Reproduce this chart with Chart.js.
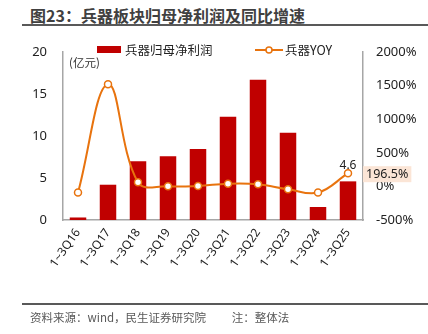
<!DOCTYPE html>
<html>
<head>
<meta charset="utf-8">
<script src="https://cdn.jsdelivr.net/npm/chart.js@4/dist/chart.umd.min.js"></script>
<style>
    body { margin: 0; background: #fff; font-family: 'Noto Sans CJK SC', 'Noto Sans', sans-serif; }
    #wrap { position: relative; width: 428px; height: 334px; overflow: hidden; }
    #myChart { position: absolute; left: 0; top: 0; }
    .title { position: absolute; left: 30px; top: 3px; font-size: 16px; font-weight: bold; color: #404040; white-space: nowrap; }
    .rule { position: absolute; left: 22px; right: 0; height: 2px; background: #595959; }
    .foot { position: absolute; left: 30px; top: 309px; font-size: 11.5px; color: #595959; white-space: nowrap; }
    .legend { position: absolute; top: 40px; font-size: 12.5px; color: #222; white-space: nowrap; }
    .unit { position: absolute; left: 69px; top: 54px; font-size: 11.5px; color: #333; }
</style>
</head>
<body>
<div id="wrap">
    <div class="title">图23：兵器板块归母净利润及同比增速</div>
    <div class="rule" style="top:24px"></div>
    <canvas id="myChart" width="428" height="334"></canvas>
    <div class="legend" style="left:97px"><span style="display:inline-block;width:24px;height:7px;background:#C00000;margin-right:4px;vertical-align:2px"></span>兵器归母净利润</div>
    <div class="legend" style="left:255px"><svg width="28" height="10" style="vertical-align:0;margin-right:2px"><line x1="0" y1="5" x2="28" y2="5" stroke="#E8730E" stroke-width="2"/><circle cx="14" cy="5" r="3" fill="#fff" stroke="#E8730E" stroke-width="1.5"/></svg>兵器YOY</div>
    <div class="unit">(亿元)</div>
    <div class="rule" style="top:303px"></div>
    <div class="foot">资料来源：wind，民生证券研究院&nbsp;&nbsp;&nbsp;&nbsp;&nbsp;&nbsp;&nbsp;&nbsp;&nbsp;&nbsp;注：整体法</div>
</div>
<script>
    const categories = ['1~3Q16', '1~3Q17', '1~3Q18', '1~3Q19', '1~3Q20', '1~3Q21', '1~3Q22', '1~3Q23', '1~3Q24', '1~3Q25'];
    const profit = [0.3, 4.2, 7.0, 7.6, 8.45, 12.3, 16.7, 10.4, 1.55, 4.6];
    const yoy = [-92, 1520, 62, 2, 6, 40, 32, -42, -92, 196.5];
    const leftTicks = [0, 5, 10, 15, 20];
    const rightTicks = [-500, 0, 500, 1000, 1500, 2000];

    const barColor = '#C00000';
    const lineColor = '#E8730E';
    const tickFont = {family: "'Noto Sans', 'Noto Sans CJK SC', sans-serif", size: 13};

    // last point labels: "4.6" above the bar and the boxed yoy value
    const lastLabels = {
        id: 'lastLabels',
        afterDatasetsDraw(chart) {
            const ctx = chart.ctx;
            const n = categories.length - 1;
            const pt = chart.getDatasetMeta(1).data[n];
            ctx.save();
            ctx.font = "12px 'Noto Sans', sans-serif";
            ctx.fillStyle = '#222';
            ctx.textAlign = 'center';
            ctx.textBaseline = 'bottom';
            ctx.fillText(String(profit[n]), pt.x, pt.y - 2);

            const txt = yoy[n] + '%';
            ctx.font = "12.5px 'Noto Sans', sans-serif";
            const w = ctx.measureText(txt).width + 6;
            const bx = pt.x + 15, by = pt.y - 7;
            ctx.fillStyle = '#FBE5D6';
            ctx.fillRect(bx, by, w, 16);
            ctx.fillStyle = '#222';
            ctx.textAlign = 'left';
            ctx.textBaseline = 'middle';
            ctx.fillText(txt, bx + 3, by + 8.5);
            ctx.restore();
        }
    };

    const config = {
        data: {
            labels: categories,
            datasets: [
                {
                    type: 'bar',
                    label: '兵器归母净利润',
                    data: profit,
                    backgroundColor: barColor,
                    yAxisID: 'y',
                    barPercentage: 0.55,
                    categoryPercentage: 1,
                    order: 2
                },
                {
                    type: 'line',
                    label: '兵器YOY',
                    data: yoy,
                    borderColor: lineColor,
                    borderWidth: 2,
                    tension: 0.4,
                    pointRadius: 3.5,
                    pointBackgroundColor: '#fff',
                    pointBorderColor: lineColor,
                    pointBorderWidth: 1.5,
                    yAxisID: 'y1',
                    order: 1
                }
            ]
        },
        options: {
            responsive: false,
            animation: false,
            layout: {padding: {top: 52, left: 0, right: 0, bottom: 0}},
            plugins: {legend: {display: false}, tooltip: {enabled: false}},
            scales: {
                x: {
                    grid: {display: false, drawTicks: false},
                    border: {color: '#A6A6A6', width: 1.5},
                    ticks: {color: '#222', font: {family: tickFont.family, size: 12}, minRotation: 55, maxRotation: 55, padding: 6},
                    afterFit(scale) { scale.height = 114; }
                },
                y: {
                    position: 'left',
                    min: 0, max: 20,
                    grid: {display: false, drawTicks: false},
                    border: {color: '#A6A6A6', width: 1.5},
                    afterBuildTicks(scale) { scale.ticks = leftTicks.map(v => ({value: v})); },
                    ticks: {color: '#222', font: tickFont, padding: 16},
                    afterFit(scale) { scale.width = 63; }
                },
                y1: {
                    position: 'right',
                    min: -500, max: 2000,
                    grid: {display: false, drawTicks: false},
                    border: {color: '#A6A6A6', width: 1.5},
                    afterBuildTicks(scale) { scale.ticks = rightTicks.map(v => ({value: v})); },
                    ticks: {color: '#222', font: tickFont, padding: 13, callback: v => v + '%'},
                    afterFit(scale) { scale.width = 65; }
                }
            }
        },
        plugins: [lastLabels]
    };

    new Chart(document.getElementById('myChart'), config);
</script>
</body>
</html>
